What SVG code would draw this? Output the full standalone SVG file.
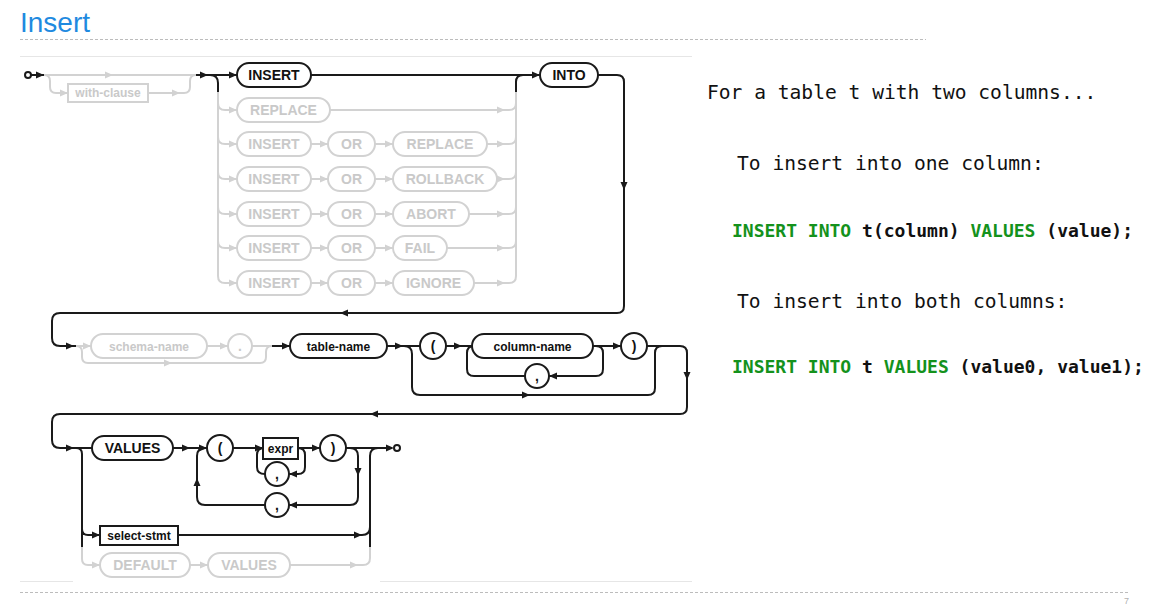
<svg xmlns="http://www.w3.org/2000/svg" xmlns:xlink="http://www.w3.org/1999/xlink" width="1156" height="613" viewBox="0 0 1156 613">
<style>
.b{fill:none;stroke:#1a1a1a;stroke-width:2}
.g{fill:none;stroke:#d2d2d2;stroke-width:2}
.nb{fill:#fff;stroke:#1a1a1a;stroke-width:2}
.ng{fill:#fff;stroke:#d2d2d2;stroke-width:2}
.tb{font-family:"Liberation Sans",Arial,sans-serif;font-weight:bold;font-size:14px;fill:#111;text-anchor:middle}
.tg{font-family:"Liberation Sans",Arial,sans-serif;font-weight:bold;font-size:14px;fill:#c9c9c9;text-anchor:middle}
.s{font-size:12px}
.ab{fill:#1a1a1a}
.ag{fill:#d2d2d2}
.m{font-family:"DejaVu Sans Mono",monospace;fill:#111}
.mr{font-size:19.6px}
.mb{font-size:18px;font-weight:bold}
.gr{fill:#14921c}
</style>
<defs>
<path id="a" d="M0,0 L-8,-3.5 L-8,3.5 Z"/>
</defs>
<rect width="1156" height="613" fill="#fff"/>
<text x="20" y="32" font-family="Liberation Sans,Arial,sans-serif" font-size="28" fill="#1f8ae0">Insert</text>
<line x1="20" y1="39.5" x2="926" y2="39.5" stroke="#bcbcbc" stroke-width="1" stroke-dasharray="3,2"/>
<line x1="20" y1="56.5" x2="692" y2="56.5" stroke="#e6e6e6" stroke-width="1"/>
<line x1="20" y1="581.5" x2="73" y2="581.5" stroke="#e6e6e6" stroke-width="1"/>
<line x1="380" y1="581.5" x2="692" y2="581.5" stroke="#e6e6e6" stroke-width="1"/>
<line x1="20" y1="592.5" x2="1128" y2="592.5" stroke="#bcbcbc" stroke-width="1" stroke-dasharray="3,2"/>
<text x="1124" y="604" font-family="Liberation Sans,Arial,sans-serif" font-size="9" fill="#b0b0b0">7</text>

<g id="connectors">
<!-- row 1 -->
<path class="b" d="M31,75 L44,75"/>
<path class="g" d="M44,75 L197,75 M44,75 Q50,75 50,81 L50,87 Q50,93 56,93 L68,93 M148,93 L184,93 Q190,93 190,87 L190,81 Q190,75 196,75"/>
<path class="b" d="M196,75 L237,75 M210,75 Q218,75 218,83 L218,92 M311,75 L540,75 M516,92 L516,82 Q516,75 523,75 M598,75 L617,75 Q624,75 624,82 L624,306 Q624,313 617,313 L60,313 Q52,313 52,321 L52,338 Q52,346 60,346 L76,346"/>
<path class="g" d="M218,92 L218,276 M218,103 Q218,110 225,110 L237,110 M218,137 Q218,144 225,144 L237,144 M218,172 Q218,179 225,179 L237,179 M218,207 Q218,214 225,214 L237,214 M218,241 Q218,248 225,248 L237,248 M218,276 Q218,283 225,283 L237,283 M516,92 L516,276 M330,110 L509,110 Q516,110 516,103 M487,144 L509,144 Q516,144 516,137 M497,179 L509,179 Q516,179 516,172 M469,214 L509,214 Q516,214 516,207 M447,248 L509,248 Q516,248 516,241 M474,283 L509,283 Q516,283 516,276 M311,144 L328,144 M375,144 L393,144 M311,179 L328,179 M375,179 L393,179 M311,214 L328,214 M375,214 L393,214 M311,248 L328,248 M375,248 L393,248 M311,283 L328,283 M375,283 L393,283"/>
<!-- row 2 -->
<path class="g" d="M76,346 L91,346 M76,346 Q82,346 82,352 L82,357 Q82,363 88,363 L260,363 Q266,363 266,357 L266,352 Q266,346 272,346 M207,346 L228,346 M252,346 L272,346"/>
<path class="b" d="M272,346 L290,346 M387,346 L420,346 M404,346 Q412,346 412,354 L412,387 Q412,395 420,395 L648,395 Q655,395 655,388 L655,353 Q655,346 662,346 M446,346 L472,346 M593,346 L621,346 M596,346 Q603,346 603,353 L603,369 Q603,376 596,376 L549,376 M525,376 L474,376 Q467,376 467,369 L467,353 Q467,346 474,346 M647,346 L680,346 Q687,346 687,353 L687,407 Q687,414 680,414 L60,414 Q52,414 52,422 L52,440 Q52,448 60,448 L92,448"/>
<!-- row 3 -->
<path class="b" d="M76,448 Q82,448 82,454 L82,547 M82,529 Q82,535 88,535 L100,535 M173,448 L207,448 M350,448 Q358,448 358,456 L358,497 Q358,505 350,505 L289,505 M265,505 L205,505 Q197,505 197,497 L197,456 Q197,448 205,448 M233,448 L263,448 M298,448 Q305,448 305,455 L305,467 Q305,474 298,474 L289,474 M265,474 Q257,474 257,467 L257,455 Q257,448 264,448 M298,448 L320,448 M346,448 L392,448 M178,535 L362,535 Q370,535 370,527 L370,456 Q370,448 378,448 M370,527 L370,547"/>
<path class="g" d="M82,547 L82,559 Q82,565 88,565 L100,565 M190,565 L208,565 M290,565 L363,565 Q370,565 370,558 L370,547"/>
<!-- arrowheads -->
<use xlink:href="#a" class="ab" transform="translate(44,75)"/>
<use xlink:href="#a" class="ag" transform="translate(113,75)"/>
<use xlink:href="#a" class="ag" transform="translate(68,93)"/>
<use xlink:href="#a" class="ag" transform="translate(180,93)"/>
<use xlink:href="#a" class="ab" transform="translate(208,75)"/>
<use xlink:href="#a" class="ab" transform="translate(237,75)"/>
<use xlink:href="#a" class="ab" transform="translate(540,75)"/>
<use xlink:href="#a" class="ag" transform="translate(237,110)"/>
<use xlink:href="#a" class="ag" transform="translate(237,144)"/>
<use xlink:href="#a" class="ag" transform="translate(237,179)"/>
<use xlink:href="#a" class="ag" transform="translate(237,214)"/>
<use xlink:href="#a" class="ag" transform="translate(237,248)"/>
<use xlink:href="#a" class="ag" transform="translate(237,283)"/>
<use xlink:href="#a" class="ag" transform="translate(328,144)"/>
<use xlink:href="#a" class="ag" transform="translate(328,179)"/>
<use xlink:href="#a" class="ag" transform="translate(328,214)"/>
<use xlink:href="#a" class="ag" transform="translate(328,248)"/>
<use xlink:href="#a" class="ag" transform="translate(328,283)"/>
<use xlink:href="#a" class="ag" transform="translate(393,144)"/>
<use xlink:href="#a" class="ag" transform="translate(393,179)"/>
<use xlink:href="#a" class="ag" transform="translate(393,214)"/>
<use xlink:href="#a" class="ag" transform="translate(393,248)"/>
<use xlink:href="#a" class="ag" transform="translate(393,283)"/>
<use xlink:href="#a" class="ag" transform="translate(505,110)"/>
<use xlink:href="#a" class="ag" transform="translate(505,144)"/>
<use xlink:href="#a" class="ag" transform="translate(505,179)"/>
<use xlink:href="#a" class="ag" transform="translate(505,214)"/>
<use xlink:href="#a" class="ag" transform="translate(505,248)"/>
<use xlink:href="#a" class="ag" transform="translate(505,283)"/>
<use xlink:href="#a" class="ab" transform="translate(624,190) rotate(90)"/>
<use xlink:href="#a" class="ab" transform="translate(340,313) rotate(180)"/>
<use xlink:href="#a" class="ab" transform="translate(74,346)"/>
<use xlink:href="#a" class="ag" transform="translate(91,346)"/>
<use xlink:href="#a" class="ag" transform="translate(172,363)"/>
<use xlink:href="#a" class="ag" transform="translate(228,346)"/>
<use xlink:href="#a" class="ab" transform="translate(290,346)"/>
<use xlink:href="#a" class="ab" transform="translate(403,346)"/>
<use xlink:href="#a" class="ab" transform="translate(462,346)"/>
<use xlink:href="#a" class="ab" transform="translate(530,395)"/>
<use xlink:href="#a" class="ab" transform="translate(549,376) rotate(180)"/>
<use xlink:href="#a" class="ab" transform="translate(621,346)"/>
<use xlink:href="#a" class="ab" transform="translate(687,380) rotate(90)"/>
<use xlink:href="#a" class="ab" transform="translate(370,414) rotate(180)"/>
<use xlink:href="#a" class="ab" transform="translate(74,448)"/>
<use xlink:href="#a" class="ab" transform="translate(190,448)"/>
<use xlink:href="#a" class="ab" transform="translate(207,448)"/>
<use xlink:href="#a" class="ab" transform="translate(197,478) rotate(-90)"/>
<use xlink:href="#a" class="ab" transform="translate(263,448)"/>
<use xlink:href="#a" class="ab" transform="translate(289,474) rotate(180)"/>
<use xlink:href="#a" class="ab" transform="translate(320,448)"/>
<use xlink:href="#a" class="ab" transform="translate(358,476) rotate(90)"/>
<use xlink:href="#a" class="ab" transform="translate(289,505) rotate(180)"/>
<use xlink:href="#a" class="ab" transform="translate(394,448)"/>
<use xlink:href="#a" class="ab" transform="translate(100,535)"/>
<use xlink:href="#a" class="ab" transform="translate(362,535)"/>
<use xlink:href="#a" class="ag" transform="translate(100,565)"/>
<use xlink:href="#a" class="ag" transform="translate(208,565)"/>
<use xlink:href="#a" class="ag" transform="translate(358,565)"/>
</g>

<g id="start"><circle cx="28" cy="75" r="3" class="nb"/></g>
<g id="end"><circle cx="397" cy="448" r="3" class="nb"/></g>
<g id="with-clause"><rect x="68" y="84" width="80" height="18" class="ng"/><text x="108" y="97" class="tg s">with-clause</text></g>
<g id="insert"><rect x="237" y="63" width="74" height="24" rx="12" class="nb"/><text x="274" y="80" class="tb">INSERT</text></g>
<g id="replace"><rect x="237" y="98" width="93" height="24" rx="12" class="ng"/><text x="283.5" y="115" class="tg">REPLACE</text></g>
<g id="into"><rect x="540" y="63" width="58" height="24" rx="12" class="nb"/><text x="569" y="80" class="tb">INTO</text></g>

<g id="row-or-replace"><rect x="237" y="132" width="74" height="24" rx="12" class="ng"/><text x="274" y="149" class="tg">INSERT</text><rect x="328" y="132" width="47" height="24" rx="12" class="ng"/><text x="351.5" y="149" class="tg">OR</text><rect x="393" y="132" width="94" height="24" rx="12" class="ng"/><text x="440" y="149" class="tg">REPLACE</text></g>
<g id="row-or-rollback"><rect x="237" y="167" width="74" height="24" rx="12" class="ng"/><text x="274" y="184" class="tg">INSERT</text><rect x="328" y="167" width="47" height="24" rx="12" class="ng"/><text x="351.5" y="184" class="tg">OR</text><rect x="393" y="167" width="104" height="24" rx="12" class="ng"/><text x="445" y="184" class="tg">ROLLBACK</text></g>
<g id="row-or-abort"><rect x="237" y="202" width="74" height="24" rx="12" class="ng"/><text x="274" y="219" class="tg">INSERT</text><rect x="328" y="202" width="47" height="24" rx="12" class="ng"/><text x="351.5" y="219" class="tg">OR</text><rect x="393" y="202" width="76" height="24" rx="12" class="ng"/><text x="431" y="219" class="tg">ABORT</text></g>
<g id="row-or-fail"><rect x="237" y="236" width="74" height="24" rx="12" class="ng"/><text x="274" y="253" class="tg">INSERT</text><rect x="328" y="236" width="47" height="24" rx="12" class="ng"/><text x="351.5" y="253" class="tg">OR</text><rect x="393" y="236" width="54" height="24" rx="12" class="ng"/><text x="420" y="253" class="tg">FAIL</text></g>
<g id="row-or-ignore"><rect x="237" y="271" width="74" height="24" rx="12" class="ng"/><text x="274" y="288" class="tg">INSERT</text><rect x="328" y="271" width="47" height="24" rx="12" class="ng"/><text x="351.5" y="288" class="tg">OR</text><rect x="393" y="271" width="81" height="24" rx="12" class="ng"/><text x="433.5" y="288" class="tg">IGNORE</text></g>

<g id="schema-name"><rect x="91" y="334" width="116" height="24" rx="12" class="ng"/><text x="149" y="350.5" class="tg s">schema-name</text></g>
<g id="dot"><circle cx="240" cy="346" r="12" class="ng"/><text x="240" y="351" class="tg">.</text></g>
<g id="table-name"><rect x="290" y="334" width="97" height="24" rx="12" class="nb"/><text x="338.5" y="350.5" class="tb s">table-name</text></g>
<g id="lparen1"><circle cx="433" cy="346" r="13" class="nb"/><text x="433" y="351" class="tb">(</text></g>
<g id="column-name"><rect x="472" y="334" width="121" height="24" rx="12" class="nb"/><text x="532.5" y="350.5" class="tb s">column-name</text></g>
<g id="comma1"><circle cx="537" cy="376" r="12" class="nb"/><text x="537" y="381" class="tb">,</text></g>
<g id="rparen1"><circle cx="634" cy="346" r="13" class="nb"/><text x="634" y="351" class="tb">)</text></g>

<g id="values"><rect x="92" y="436" width="81" height="24" rx="12" class="nb"/><text x="132.5" y="453" class="tb">VALUES</text></g>
<g id="lparen2"><circle cx="220" cy="448" r="13" class="nb"/><text x="220" y="453" class="tb">(</text></g>
<g id="expr"><rect x="263" y="438" width="35" height="21" class="nb"/><text x="280.5" y="452.5" class="tb s">expr</text></g>
<g id="comma2"><circle cx="277" cy="474" r="12" class="nb"/><text x="277" y="479" class="tb">,</text></g>
<g id="rparen2"><circle cx="333" cy="448" r="13" class="nb"/><text x="333" y="453" class="tb">)</text></g>
<g id="comma3"><circle cx="277" cy="505" r="12" class="nb"/><text x="277" y="510" class="tb">,</text></g>
<g id="select-stmt"><rect x="100" y="526" width="78" height="19" class="nb"/><text x="139" y="539.5" class="tb s">select-stmt</text></g>
<g id="default"><rect x="100" y="553" width="90" height="24" rx="12" class="ng"/><text x="145" y="570" class="tg">DEFAULT</text></g>
<g id="default-values"><rect x="208" y="553" width="82" height="24" rx="12" class="ng"/><text x="249" y="570" class="tg">VALUES</text></g>

<g id="notes">
<text x="707" y="99" class="m mr" xml:space="preserve">For a table t with two columns...</text>
<text x="737" y="170" class="m mr">To insert into one column:</text>
<text x="732" y="237" class="m mb"><tspan class="gr">INSERT INTO</tspan> t(column) <tspan class="gr">VALUES</tspan> (value);</text>
<text x="737" y="308" class="m mr">To insert into both columns:</text>
<text x="732" y="373" class="m mb"><tspan class="gr">INSERT INTO</tspan> t <tspan class="gr">VALUES</tspan> (value0, value1);</text>
</g>
</svg>
